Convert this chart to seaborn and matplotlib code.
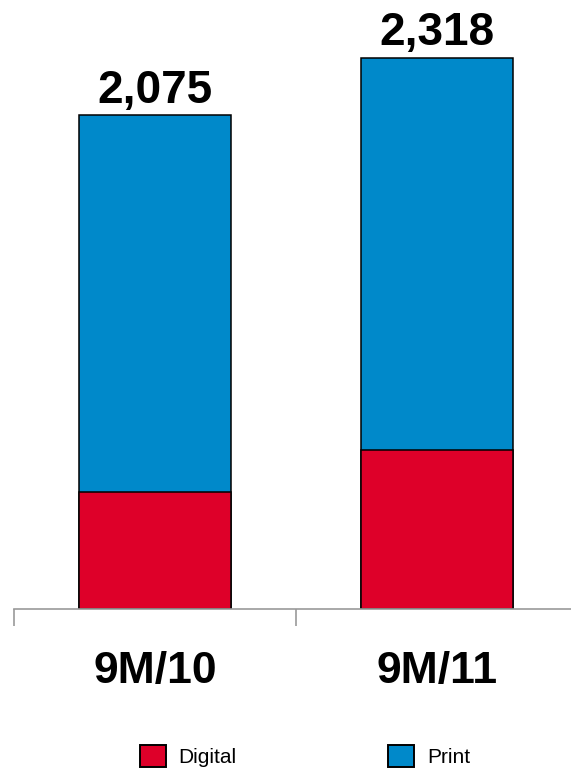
import numpy as np
import pandas as pd
import matplotlib
matplotlib.use("Agg")
import matplotlib.pyplot as plt
import seaborn as sns
from matplotlib.patches import Patch

# data
periods = ["9M/10", "9M/11"]
digital = [493, 670]
print_rev = [1582, 1648]
totals = [d + p for d, p in zip(digital, print_rev)]
total_labels = ["2,075", "2,318"]

red = "#DE0029"
blue = "#0089CA"

sns.set_theme(style="white")
plt.rcParams["font.family"] = ["Liberation Sans", "DejaVu Sans"]
plt.rcParams["text.color"] = "black"
plt.rcParams["xtick.color"] = "black"

fig = plt.figure(figsize=(5.71, 7.70), dpi=100)
ax = fig.add_axes([14 / 571, 161 / 770, 1 - 14 / 571, 609 / 770])

df = pd.DataFrame({"period": periods, "total": totals, "digital": digital})

# print sits on top of digital, so draw totals first then digital over it
sns.barplot(data=df, x="period", y="total", color=blue, width=0.54,
            edgecolor="black", linewidth=1.1, saturation=1, ax=ax)
sns.barplot(data=df, x="period", y="digital", color=red, width=0.54,
            edgecolor="black", linewidth=1.1, saturation=1, ax=ax)

ax.bar_label(ax.containers[0], labels=total_labels, padding=2,
             fontsize=33, fontweight="bold", color="black")

ax.set_xlim(-0.5, 1.475)
ax.set_ylim(0, 2560)
ax.set_xlabel("")
ax.set_ylabel("")
ax.set_yticks([])

for s in ["top", "left", "right"]:
    ax.spines[s].set_visible(False)
ax.spines["bottom"].set_color("#999999")
ax.spines["bottom"].set_linewidth(1.2)

ax.set_xticks([0, 1])
ax.set_xticklabels(periods, fontsize=32, fontweight="bold", color="black")
ax.tick_params(axis="x", which="major", length=0, pad=30)
ax.set_xticks([-0.5, 0.5], minor=True)
ax.tick_params(axis="x", which="minor", length=12, width=1.2,
               color="#999999", direction="out", bottom=True)

handles = [Patch(facecolor=red, edgecolor="black", linewidth=1.4, label="Digital"),
           Patch(facecolor=blue, edgecolor="black", linewidth=1.4, label="Print")]
fig.legend(handles=handles, loc="center", bbox_to_anchor=(0.534, 0.018),
           ncol=2, frameon=False, fontsize=15, handlelength=1.25,
           handleheight=1.25, handletextpad=0.6, columnspacing=7.3,
           labelcolor="black")

fig.savefig("out.png", dpi=100)
